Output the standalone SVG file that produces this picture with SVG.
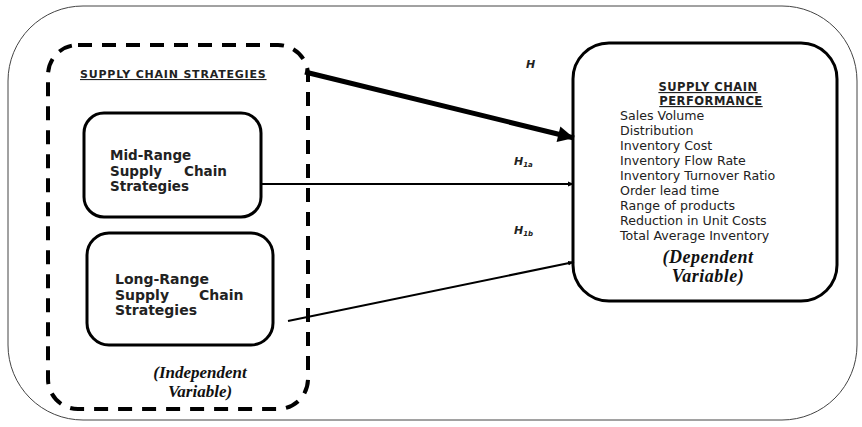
<svg xmlns="http://www.w3.org/2000/svg" width="862" height="427" viewBox="0 0 862 427">
<defs>
<style>
.sans{font-family:"DejaVu Sans","Liberation Sans",sans-serif;fill:#222;}
.b{font-weight:bold;}
.ser{font-family:"Liberation Serif","DejaVu Serif",serif;font-style:italic;font-weight:bold;fill:#111;}
.box{fill:#fff;stroke:#000;}
.conn{stroke:#000;fill:none;}
</style>
<marker id="ah" viewBox="0 0 10 10" refX="10" refY="5" markerWidth="6" markerHeight="6" orient="auto" markerUnits="userSpaceOnUse">
<path d="M0,1 L10,5 L0,9 Z" fill="#000"/>
</marker>
<marker id="ahb" viewBox="0 0 10 10" refX="10" refY="5" markerWidth="22" markerHeight="16" orient="auto" markerUnits="userSpaceOnUse">
<path d="M0,0 L10,5 L0,10 Z" fill="#000"/>
</marker>
</defs>
<rect width="862" height="427" fill="#fff"/>
<g id="outer"><rect x="8" y="6" width="849" height="414" rx="75" ry="75" fill="none" stroke="#444" stroke-width="1"/></g>
<g id="strategies">
<rect x="48" y="45" width="260" height="364" rx="30" ry="30" fill="none" stroke="#000" stroke-width="4" stroke-dasharray="14,10"/>
<text class="sans b" x="80" y="78" font-size="11" letter-spacing="0.8" text-decoration="underline">SUPPLY CHAIN STRATEGIES</text>
<text class="ser" font-size="17" text-anchor="middle"><tspan x="200" y="378">(Independent</tspan><tspan x="200" y="397">Variable)</tspan></text>
</g>
<g id="midrange">
<rect class="box" x="84" y="113" width="177" height="104" rx="20" ry="20" stroke-width="3"/>
<text class="sans b" font-size="13.5"><tspan x="110" y="160">Mid-Range</tspan><tspan x="110" y="176">Supply<tspan dx="22">Chain</tspan></tspan><tspan x="110" y="191">Strategies</tspan></text>
</g>
<g id="longrange">
<rect class="box" x="87" y="233" width="186" height="112" rx="22" ry="22" stroke-width="3"/>
<text class="sans b" font-size="14"><tspan x="115" y="284">Long-Range</tspan><tspan x="115" y="300">Supply<tspan dx="30">Chain</tspan></tspan><tspan x="115" y="315">Strategies</tspan></text>
</g>
<g id="performance">
<rect class="box" x="573" y="43" width="264" height="258" rx="36" ry="36" stroke-width="3"/>
<text class="sans b" font-size="11.5" letter-spacing="0.5" text-anchor="middle" text-decoration="underline"><tspan x="708" y="91">SUPPLY CHAIN</tspan><tspan x="711" y="105">PERFORMANCE</tspan></text>
<text class="sans" font-size="12.6"><tspan x="620" y="120">Sales Volume</tspan><tspan x="620" y="135">Distribution</tspan><tspan x="620" y="150">Inventory Cost</tspan><tspan x="620" y="165">Inventory Flow Rate</tspan><tspan x="620" y="180">Inventory Turnover  Ratio</tspan><tspan x="620" y="195">Order lead time</tspan><tspan x="620" y="210">Range of products</tspan><tspan x="620" y="225">Reduction in Unit Costs</tspan><tspan x="620" y="240">Total Average Inventory</tspan></text>
<text class="ser" font-size="18" text-anchor="middle" letter-spacing="0.5"><tspan x="708" y="263">(Dependent</tspan><tspan x="708" y="282">Variable)</tspan></text>
</g>
<g id="connectors">
<line class="conn" x1="305" y1="72" x2="574" y2="138" stroke-width="5" marker-end="url(#ahb)"/>
<line class="conn" x1="261" y1="184" x2="574" y2="184" stroke-width="2" marker-end="url(#ah)"/>
<line class="conn" x1="288" y1="321" x2="574" y2="262" stroke-width="2" marker-end="url(#ah)"/>
<text class="sans b" font-style="italic" font-size="11" x="526" y="68" fill="#111">H</text>
<text class="sans b" font-style="italic" font-size="11" x="514" y="165" fill="#111">H<tspan font-size="7" dy="2">1a</tspan></text>
<text class="sans b" font-style="italic" font-size="11" x="514" y="234" fill="#111">H<tspan font-size="7" dy="2">1b</tspan></text>
</g>
</svg>
